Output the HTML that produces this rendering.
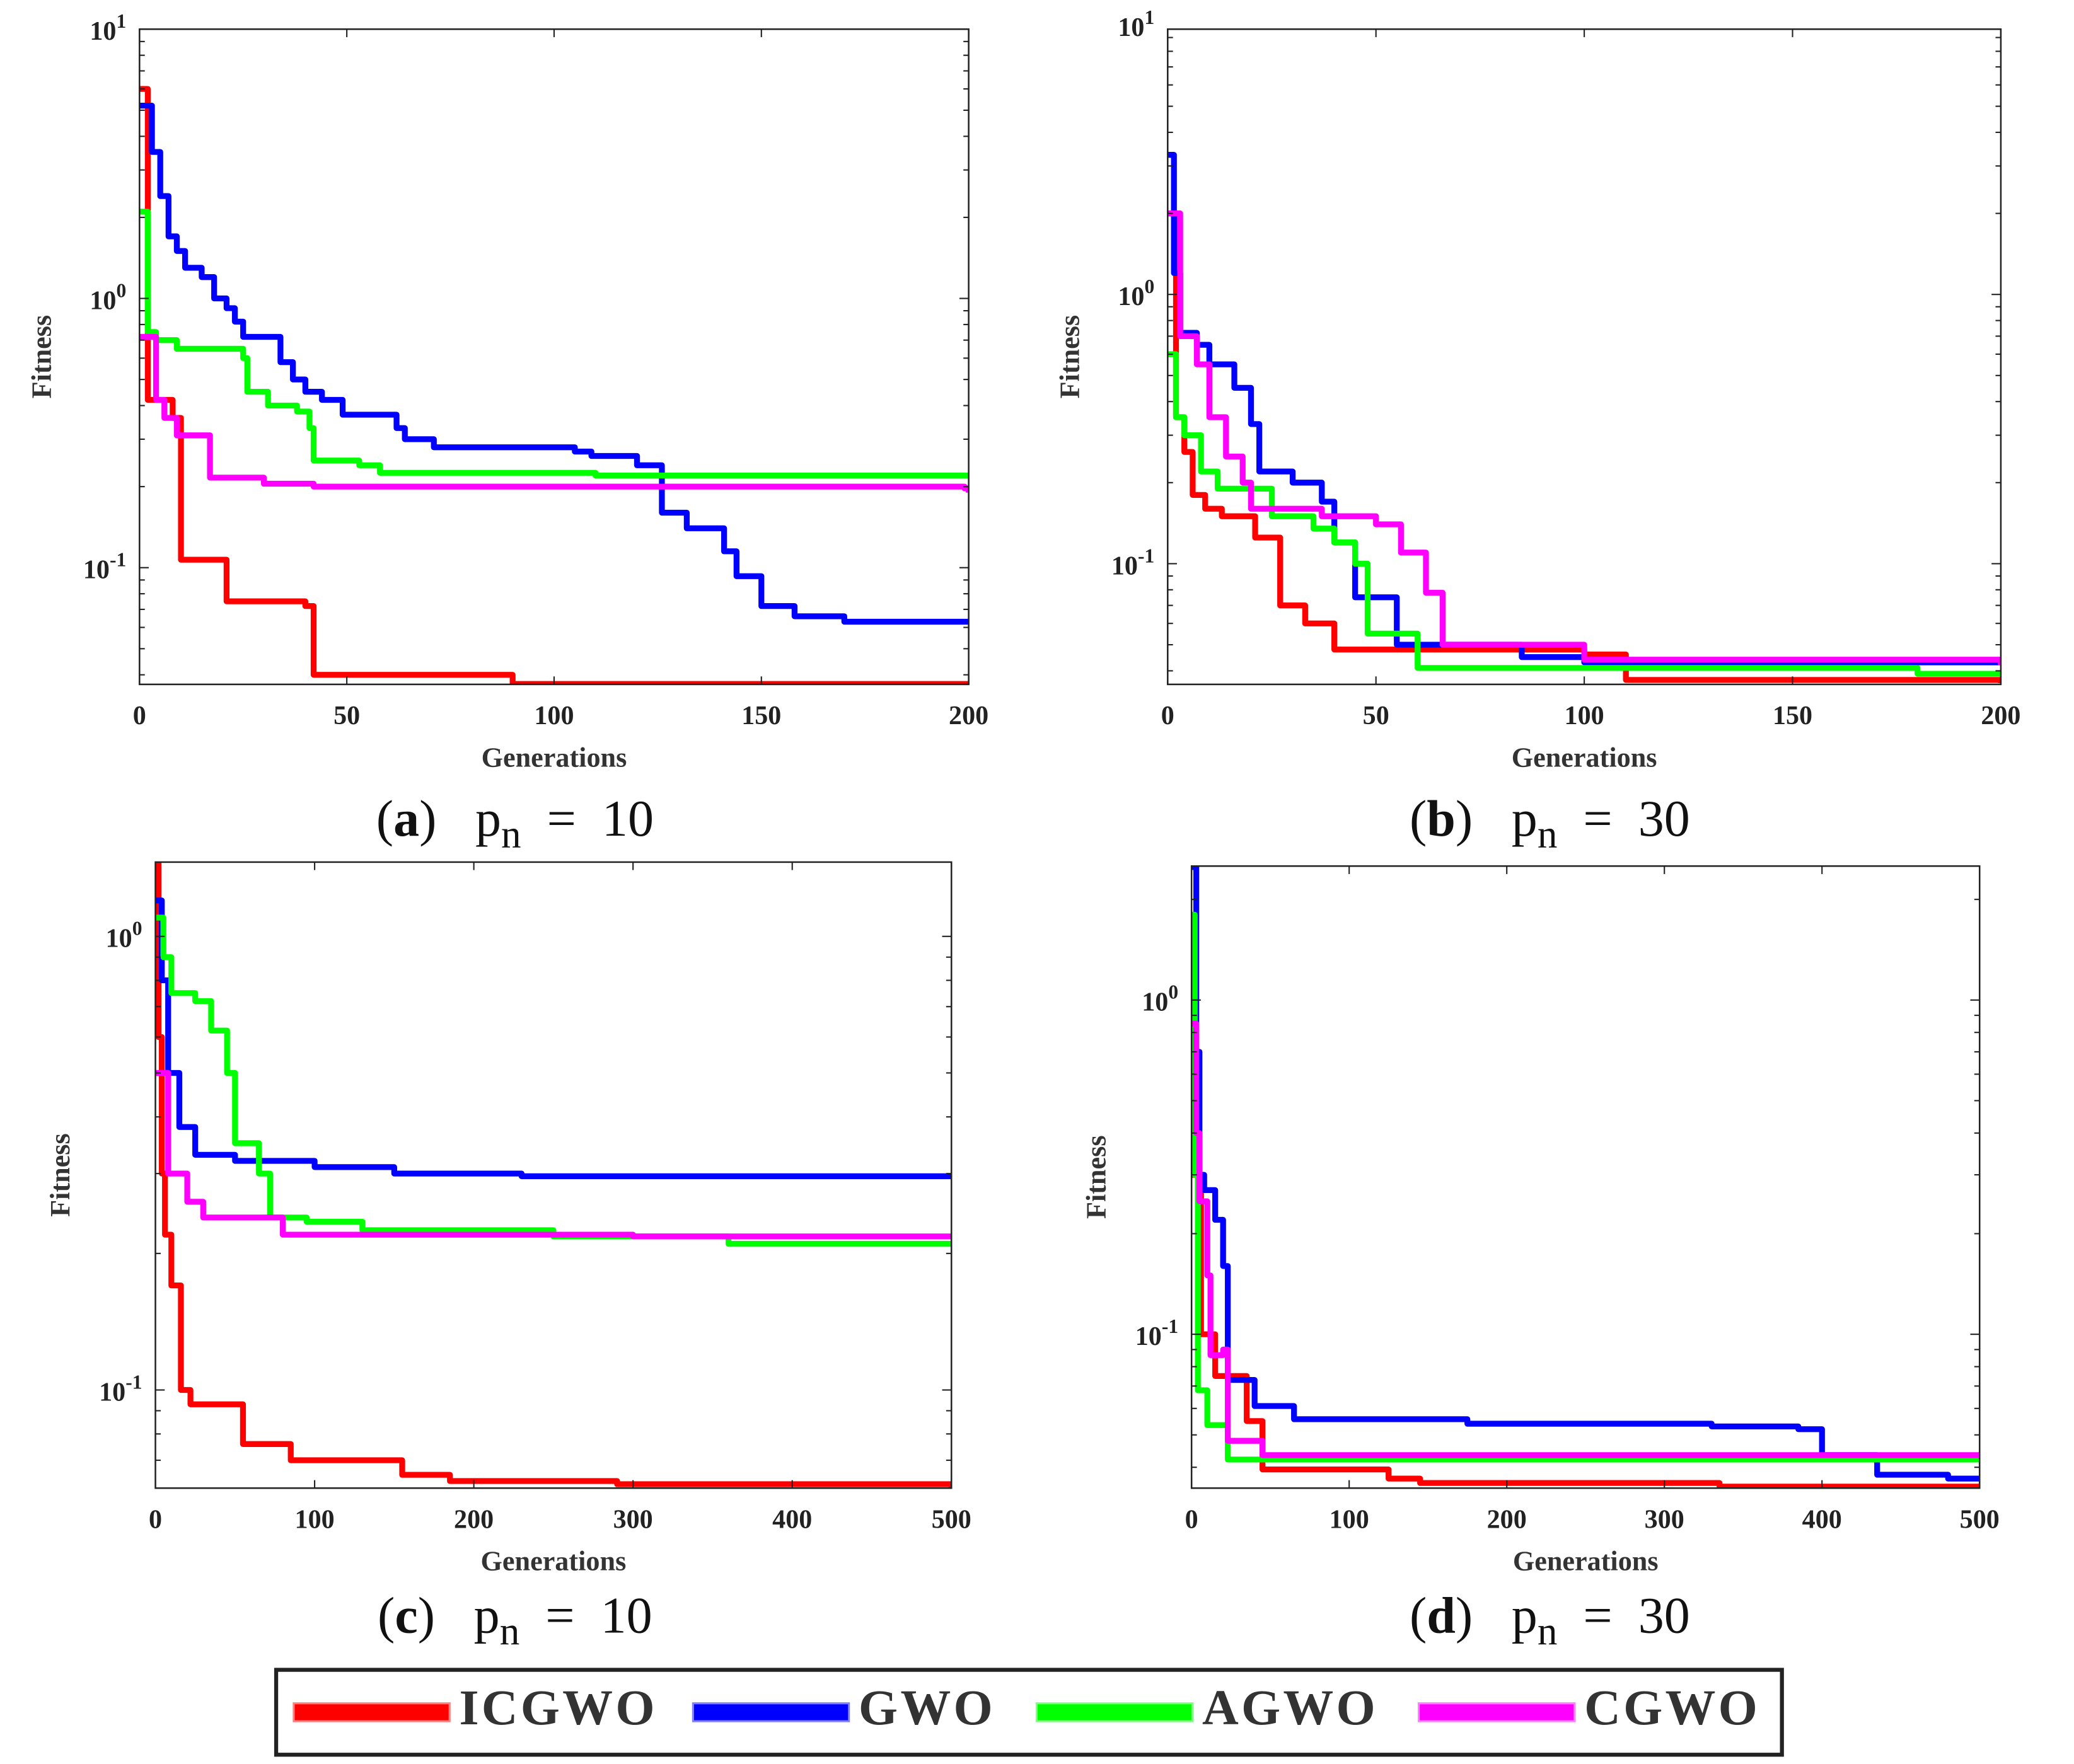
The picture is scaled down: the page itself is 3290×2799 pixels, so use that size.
<!DOCTYPE html>
<html><head><meta charset="utf-8"><style>
html,body{margin:0;padding:0;background:#fff;}
svg{display:block;}
.tick{font-family:"Liberation Serif",serif;font-weight:bold;font-size:20px;fill:#222;}
.axt{font-family:"Liberation Serif",serif;font-weight:bold;font-size:21px;fill:#333;}
.cap{font-family:"Liberation Serif","DejaVu Serif",serif;font-size:39px;fill:#111;}
.leg{font-family:"Liberation Serif",serif;font-weight:bold;font-size:38px;fill:#333;letter-spacing:2px;}
</style></head><body>
<svg id="fig" width="3290" height="2799" viewBox="0 0 1563 1330" xmlns="http://www.w3.org/2000/svg"></svg>
<script>
// ---- data ----
const seriesNames=["ICGWO","GWO","AGWO","CGWO"];
const seriesColors=["#ff0000","#0000ff","#00ff00","#ff00ff"];
// panel a
const aRedGen=[0,2,8,10,21,40,42,90,200];
const aRedVal=[6.0,0.42,0.36,0.107,0.075,0.072,0.040,0.037,0.037];
const aBlueGen=[0,3,5,7,9,11,15,18,21,23,25,34,37,40,44,49,62,64,71,105,109,120,126,132,141,144,150,158,170,200];
const aBlueVal=[5.2,3.5,2.4,1.7,1.5,1.3,1.2,1.0,0.92,0.82,0.72,0.58,0.5,0.45,0.42,0.37,0.33,0.30,0.28,0.27,0.26,0.24,0.16,0.14,0.115,0.093,0.072,0.066,0.063,0.063];
const aGreenGen=[0,2,4,9,25,26,31,38,41,42,53,58,110,200];
const aGreenVal=[2.1,0.75,0.7,0.65,0.6,0.45,0.4,0.38,0.33,0.25,0.24,0.225,0.22,0.22];
const aMagGen=[0,4,6,9,17,30,42,199,200];
const aMagVal=[0.72,0.42,0.36,0.31,0.216,0.205,0.2,0.197,0.19];
// panel b
const bRedGen=[0,2,4,6,9,13,21,27,33,40,100,110,200];
const bRedVal=[2.0,0.35,0.26,0.18,0.16,0.15,0.125,0.07,0.06,0.048,0.046,0.037,0.036];
const bBlueGen=[0,1.5,3,7,10,16,20,22,30,37,40,45,55,85,100,200];
const bBlueVal=[3.3,1.2,0.72,0.65,0.55,0.45,0.33,0.22,0.2,0.17,0.12,0.075,0.05,0.045,0.043,0.043];
const bGreenGen=[0,2,4,8,12,25,35,40,45,48,60,100,180,200];
const bGreenVal=[0.6,0.35,0.3,0.22,0.19,0.15,0.135,0.12,0.1,0.055,0.041,0.041,0.039,0.039];
const bMagGen=[0,3,7,10,14,18,20,37,50,56,62,66,75,100,200];
const bMagVal=[2.0,0.7,0.55,0.35,0.25,0.2,0.16,0.15,0.14,0.11,0.078,0.05,0.05,0.044,0.042];
// panel c
const cRedGen=[0,2,4,6,10,16,22,55,85,155,185,290,500];
const cRedVal=[1.45,0.6,0.3,0.22,0.17,0.1,0.093,0.076,0.07,0.065,0.063,0.062,0.061];
const cBlueGen=[0,4,8,15,25,50,100,150,230,500];
const cBlueVal=[1.2,0.8,0.5,0.38,0.33,0.32,0.31,0.3,0.296,0.296];
const cGreenGen=[0,5,10,25,35,45,50,65,72,95,130,250,360,500];
const cGreenVal=[1.1,0.9,0.75,0.72,0.62,0.5,0.35,0.3,0.24,0.235,0.225,0.218,0.21,0.208];
const cMagGen=[0,8,20,30,80,300,500];
const cMagVal=[0.5,0.3,0.26,0.24,0.22,0.218,0.216];
// panel d
const dRedGen=[0,6,15,35,45,125,145,335,500];
const dRedVal=[0.3,0.1,0.075,0.055,0.0394,0.037,0.0359,0.035,0.035];
const dBlueGen=[0,3,5,8,15,20,23,40,65,175,330,385,400,435,480,500];
const dBlueVal=[2.5,0.7,0.3,0.27,0.22,0.16,0.073,0.061,0.0557,0.054,0.053,0.052,0.0435,0.038,0.037,0.037];
const dGreenGen=[0,2,4,10,23,500];
const dGreenVal=[1.8,0.3,0.068,0.0535,0.0422,0.0422];
const dMagGen=[0,3,5,10,12,20,23,45,500];
const dMagVal=[0.85,0.4,0.25,0.15,0.0866,0.09,0.048,0.0435,0.0435];
// tick labels
const xTicksAB=[0,50,100,150,200];
const xTicksCD=[0,100,200,300,400,500];

const NS="http://www.w3.org/2000/svg";
const svg=document.getElementById('fig');
function mk(tag,attrs,parent){const e=document.createElementNS(NS,tag);for(const k in attrs)e.setAttribute(k,attrs[k]);(parent||svg).appendChild(e);return e;}

const panels=[
 {id:"a",L:105,R:730,T:22,B:516,xmax:200,yRef:225,dec:203,ticks:xTicksAB,decs:[1,0,-1],cap:"a",pn:"10",cx:388,cy:630,fx:38,
  s:[[aRedGen,aRedVal],[aBlueGen,aBlueVal],[aGreenGen,aGreenVal],[aMagGen,aMagVal]]},
 {id:"b",L:880,R:1508,T:22,B:516,xmax:200,yRef:222,dec:203,ticks:xTicksAB,decs:[1,0,-1],cap:"b",pn:"30",cx:1168,cy:630,fx:813,
  s:[[bRedGen,bRedVal],[bBlueGen,bBlueVal],[bGreenGen,bGreenVal],[bMagGen,bMagVal]]},
 {id:"c",L:117,R:717,T:650,B:1122,xmax:500,yRef:706,dec:342,ticks:xTicksCD,decs:[0,-1],cap:"c",pn:"10",cx:388,cy:1231,fx:52,
  s:[[cRedGen,cRedVal],[cBlueGen,cBlueVal],[cGreenGen,cGreenVal],[cMagGen,cMagVal]]},
 {id:"d",L:898,R:1492,T:653,B:1122,xmax:500,yRef:754,dec:252,ticks:xTicksCD,decs:[0,-1],cap:"d",pn:"30",cx:1168,cy:1231,fx:833,
  s:[[dRedGen,dRedVal],[dBlueGen,dBlueVal],[dGreenGen,dGreenVal],[dMagGen,dMagVal]]}
];

panels.forEach(p=>{
  const g=mk('g',{});
  
  
  const xs=v=>p.L+(p.R-p.L)*v/p.xmax;
  const ys=v=>p.yRef-Math.log10(v)*p.dec;
  const vTop=Math.pow(10,(p.yRef-p.T)/p.dec), vBot=Math.pow(10,(p.yRef-p.B)/p.dec);
  const cp=mk('clipPath',{id:'clip'+p.id},g);
  mk('rect',{x:p.L,y:p.T,width:p.R-p.L,height:p.B-p.T},cp);
  p.s.forEach((sr,i)=>{
    const [gx,gv]=sr;let d='';
    for(let k=0;k<gx.length;k++){
      const x=xs(gx[k]),y=ys(gv[k]);
      if(k===0)d+='M'+x+' '+y;else d+=' H'+x+' V'+y;
    }
    const path=mk('path',{d:d,fill:'none',stroke:seriesColors[i],'stroke-width':4.4,'stroke-linejoin':'round','clip-path':'url(#clip'+p.id+')'},g);
    
    
  });
  const box=mk('rect',{x:p.L,y:p.T,width:p.R-p.L,height:p.B-p.T,fill:'none',stroke:'#222','stroke-width':1.2},g);
  
  
  p.ticks.forEach(t=>{
    const x=xs(t);
    mk('line',{x1:x,x2:x,y1:p.B,y2:p.B-6,stroke:'#222','stroke-width':1},g);
    mk('line',{x1:x,x2:x,y1:p.T,y2:p.T+6,stroke:'#222','stroke-width':1},g);
    const tx=mk('text',{x:x,y:p.B+30,'text-anchor':'middle',class:'tick'},g);tx.textContent=t;
    
    
  });
  for(let e=-3;e<=2;e++){
    for(let m=1;m<10;m++){
      const v=m*Math.pow(10,e);
      if(v>vTop*1.0001||v<vBot*0.9999)continue;
      const y=ys(v),len=m===1?7:4;
      mk('line',{x1:p.L,x2:p.L+len,y1:y,y2:y,stroke:'#222','stroke-width':1},g);
      mk('line',{x1:p.R,x2:p.R-len,y1:y,y2:y,stroke:'#222','stroke-width':1},g);
    }
  }
  p.decs.forEach(e=>{
    const y=ys(Math.pow(10,e));
    const t=mk('text',{x:p.L-10,y:y+8,'text-anchor':'end',class:'tick'},g);
    
    
    t.textContent='10';
    const sp=mk('tspan',{dy:-9,'font-size':'15'},t);sp.textContent=String(e);
  });
  const xt=mk('text',{x:(p.L+p.R)/2,y:p.B+62,'text-anchor':'middle',class:'axt'},g);xt.textContent='Generations';
  
  
  const ym=(p.T+p.B)/2;
  const yt=mk('text',{x:p.fx,y:ym,'text-anchor':'middle',class:'axt',transform:'rotate(-90 '+p.fx+' '+ym+')'},g);yt.textContent='Fitness';
  
  
  const c=mk('text',{x:p.cx,y:p.cy,'text-anchor':'middle',class:'cap'},g);
  
  
  c.appendChild(document.createTextNode('('));
  const b=mk('tspan',{'font-weight':'bold'},c);b.textContent=p.cap;
  c.appendChild(document.createTextNode(')\u00A0\u00A0\u00A0p'));
  const sub=mk('tspan',{dy:9,'font-size':'30'},c);sub.textContent='n';
  const rest=mk('tspan',{dy:-9},c);rest.textContent='\u00A0\u00A0=\u00A0\u00A0'+p.pn;
});

const lg=mk('g',{});


mk('rect',{x:208,y:1259,width:1135,height:64,fill:'#fff',stroke:'#222','stroke-width':3},lg);
const legX=[222,523,782,1070];
seriesNames.forEach((n,i)=>{
  const e=mk('g',{},lg);
  
  
  mk('rect',{x:legX[i],y:1285,width:116,height:12,fill:seriesColors[i],stroke:seriesColors[i],'stroke-opacity':0.5,'stroke-width':3},e);
  const t=mk('text',{x:legX[i]+124,y:1300,class:'leg'},e);t.textContent=n;
});
</script>
</body></html>
